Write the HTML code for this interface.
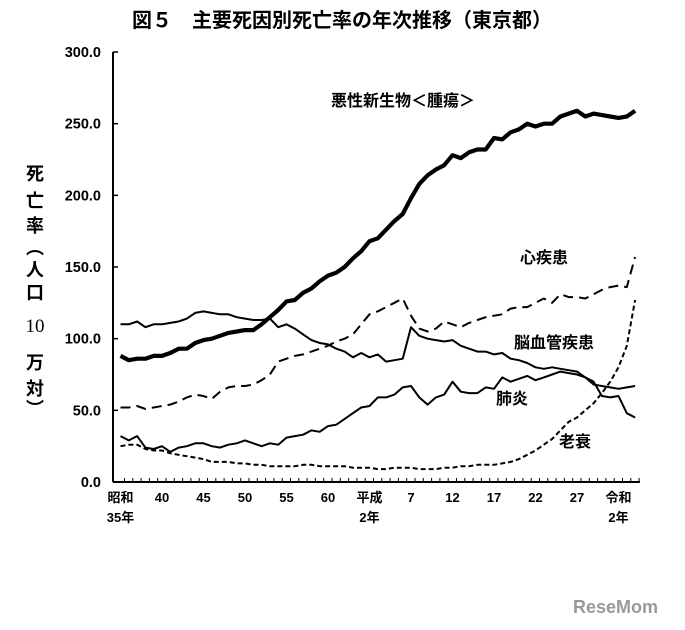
<!DOCTYPE html>
<html><head><meta charset="utf-8"><style>
body{margin:0;background:#fff;}
svg{display:block;font-family:"Liberation Sans","Noto Sans CJK JP",sans-serif;}
</style></head><body>
<svg id="chart" width="685" height="630" viewBox="0 0 685 630" xmlns="http://www.w3.org/2000/svg">
<text x="342" y="27" text-anchor="middle" font-size="20" font-weight="bold" font-family="'Noto Sans CJK JP',sans-serif">図５　主要死因別死亡率の年次推移（東京都）</text>
<g id="ytitle" font-size="18" font-weight="bold" font-family="'Noto Sans CJK JP',sans-serif" text-anchor="middle">
<text x="35" y="180">死</text><text x="35" y="207">亡</text><text x="35" y="232">率</text>
<text x="35" y="254">︵</text><text x="35" y="276">人</text><text x="35" y="299">口</text>
<text x="35" y="332" font-family="'Liberation Serif',serif" font-weight="normal" font-size="19">10</text>
<text x="35" y="369">万</text><text x="35" y="395">対</text><text x="35" y="415">︶</text>
</g>
<g id="axes"></g>
<g id="series"></g>
<g font-size="16" font-weight="bold" font-family="'Noto Sans CJK JP',sans-serif">
<text x="331" y="106">悪性新生物＜腫瘍＞</text>
<text x="520" y="263">心疾患</text>
<text x="514" y="348">脳血管疾患</text>
<text x="496" y="404">肺炎</text>
<text x="559" y="447">老衰</text>
</g>
<text x="573" y="613" font-size="18" font-weight="bold" fill="#999">ReseMom</text>
</svg>
<script>
const years = [];
for (let y = 1960; y <= 2022; y++) years.push(y);
const yTicks = [0, 50, 100, 150, 200, 250, 300];
const xLabelYears = [1960, 1965, 1970, 1975, 1980, 1985, 1990, 1995, 2000, 2005, 2010, 2015, 2020];
const xLabelLine1 = ["昭和", "40", "45", "50", "55", "60", "平成", "7", "12", "17", "22", "27", "令和"];
const xLabelLine2 = ["35年", "", "", "", "", "", "2年", "", "", "", "", "", "2年"];
const cancer = [88,85,86,86,88,88,90,93,93,97, 99,100,102,104,105,106,106,110,115,120, 126,127,132,135,140,144,146,150,156,161, 168,170,176,182,187,198,208,214,218,221, 228,226,230,232,232,240,239,244,246,250, 248,250,250,255,257,259,255,257,256,255, 254,255,259];
const heart = [52,52,53,51,52,53,54,56,59,61, 60,58,63,66,67,67,68,71,75,84, 86,88,89,91,93,95,98,100,103,110, 117,119,122,125,128,116,107,105,107,112, 110,108,111,113,115,116,117,121,122,122, 125,128,125,131,129,129,128,131,134,136, 137,136,157];
const stroke = [110,110,112,108,110,110,111,112,114,118, 119,118,117,117,115,114,113,113,114,108, 110,107,103,99,97,96,93,91,87,90, 87,89,84,85,86,108,102,100,99,98, 99,95,93,91,91,89,90,86,85,83, 80,79,80,79,78,77,73,68,67,66, 65,66,67];
const pneumonia = [32,29,32,24,23,25,21,24,25,27, 27,25,24,26,27,29,27,25,27,26, 31,32,33,36,35,39,40,44,48,52, 53,59,59,61,66,67,59,54,59,61, 70,63,62,62,66,65,73,70,72,74, 71,73,75,77,76,75,73,70,60,59, 60,48,45];
const senility = [25,26,26,23,22,22,20,19,18,17, 16,14,14,14,13,13,12,12,11,11, 11,11,12,12,11,11,11,11,10,10, 10,9,9,10,10,10,9,9,9,10, 10,11,11,12,12,12,13,14,16,19, 22,26,30,36,42,45,50,55,62,70, 80,95,127];

const NS = "http://www.w3.org/2000/svg";
const X0 = 113, X1 = 640, Y0 = 482, Y300 = 52;
const xs = yr => 120.5 + (yr - 1960) * 8.3;
const ys = v => Y0 - v * (Y0 - Y300) / 300;
function mk(tag, attrs, parent) {
  const e = document.createElementNS(NS, tag);
  for (const k in attrs) e.setAttribute(k, attrs[k]);
  parent.appendChild(e);
  return e;
}
const axes = document.getElementById("axes");
const yAxis = mk("line", {x1: X0, y1: Y300, x2: X0, y2: Y0, stroke: "#000", "stroke-width": 2}, axes);


const xAxis = mk("line", {x1: X0, y1: Y0, x2: X1, y2: Y0, stroke: "#000", "stroke-width": 2}, axes);


yTicks.forEach(v => {
  mk("line", {x1: X0, y1: ys(v), x2: X0 + 5, y2: ys(v), stroke: "#000", "stroke-width": 1.5}, axes);
  const t = mk("text", {x: 101, y: ys(v) + 5, "text-anchor": "end", "font-size": 14.5, "font-weight": "bold"}, axes);
  t.textContent = v.toFixed(1);
  
  
});
years.forEach(yr => {
  mk("line", {x1: xs(yr) + 4, y1: Y0, x2: xs(yr) + 4, y2: Y0 - 4, stroke: "#000", "stroke-width": 1}, axes);
});
xLabelYears.forEach((yr, i) => {
  const t = mk("text", {x: xs(yr), y: 502, "text-anchor": "middle", "font-size": 13, "font-weight": "bold", "font-family": "'Liberation Sans','Noto Sans CJK JP',sans-serif"}, axes);
  t.textContent = xLabelLine1[i];
  
  
  if (xLabelLine2[i]) {
    const t2 = mk("text", {x: xs(yr), y: 522, "text-anchor": "middle", "font-size": 13, "font-weight": "bold", "font-family": "'Liberation Sans','Noto Sans CJK JP',sans-serif"}, axes);
    t2.textContent = xLabelLine2[i];
    
    
  }
});
const g = document.getElementById("series");
function line(data, w, dash, name) {
  const d = data.map((v, i) => (i ? "L" : "M") + xs(years[i]).toFixed(1) + "," + ys(v).toFixed(1)).join(" ");
  const p = mk("path", {d: d, fill: "none", stroke: "#000", "stroke-width": w, "stroke-linejoin": "round"}, g);
  if (dash) p.setAttribute("stroke-dasharray", dash);
  
  
}
line(heart, 2, "10,6", "line-heart-disease");
line(senility, 2, "5,3", "line-senility");
line(stroke, 2, null, "line-cerebrovascular");
line(pneumonia, 2, null, "line-pneumonia");
line(cancer, 4.2, null, "line-cancer");
</script>
</body></html>
